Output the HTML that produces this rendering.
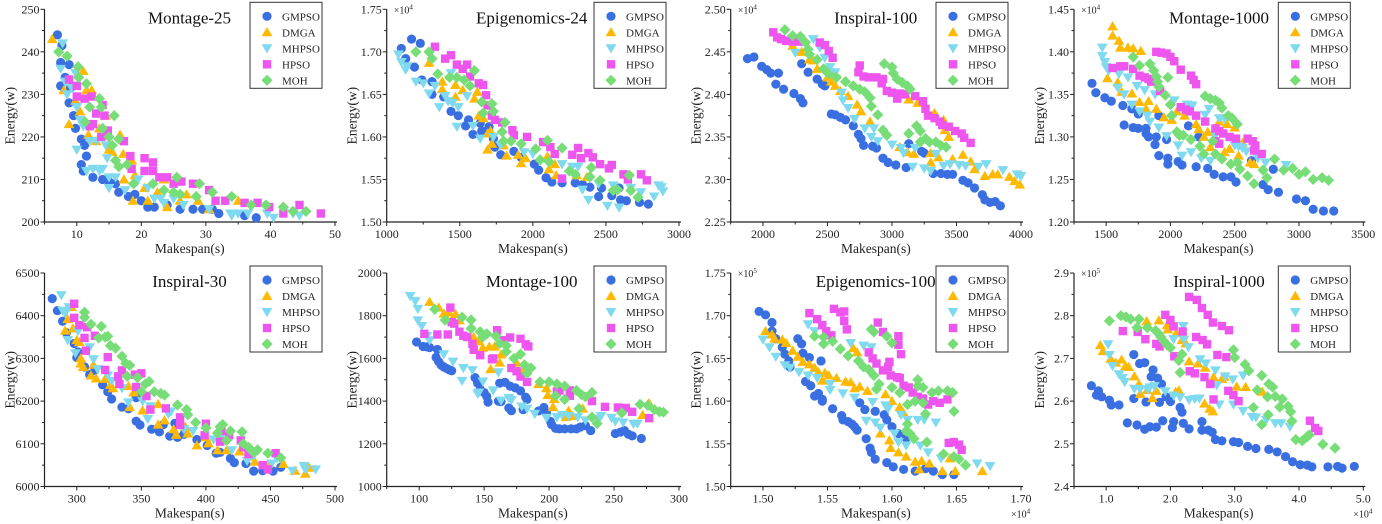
<!DOCTYPE html>
<html><head><meta charset="utf-8"><style>
html,body{margin:0;padding:0;background:#fff;}
svg{display:block;font-family:"Liberation Serif",serif;}
</style></head><body>
<svg id="chart" width="1382" height="524" viewBox="0 0 1382 524" xmlns="http://www.w3.org/2000/svg"></svg>
<script>
const seriesNames = ["GMPSO","DMGA","MHPSO","HPSO","MOH"];
const panelTitles = ["Montage-25","Epigenomics-24","Inspiral-100","Montage-1000","Inspiral-30","Montage-100","Epigenomics-100","Inspiral-1000"];

const p1_gmpso=[[7,244],[7.7,241.5],[7.5,237.5],[8.8,237],[7.5,232],[8.2,234],[9,231.5],[8.8,228],[9.5,225],[9.8,222],[10.7,219.5],[11.2,218],[11.5,215.5],[10.7,213.5],[11,212],[12.5,210.5],[14,210],[15,209.5],[16,209],[16.5,207],[18,206],[19,206.5],[20,205],[21,203.5],[22,203.5],[24,204],[26,203],[28,203],[29.5,203],[31,203],[32,202],[36,201.5],[37.8,201]];
const p1_dmga=[[6.2,243],[8,231],[8.8,223],[9.8,228.5],[10.5,226],[11,235.5],[11.5,231],[12.3,231],[11.8,220.5],[13,219],[13.5,222],[14.5,225],[15,217],[15.5,216.5],[16.7,220.5],[17.2,216],[17.3,210],[18.5,214.5],[18.7,205],[19,211],[20.5,208],[21,205],[22.5,207],[23.5,210],[24,203.5],[26,205],[27,206.5],[28.8,205],[30.5,203],[35,205]];
const p1_mhpso=[[7.5,236],[7.8,242],[8.2,233],[8.5,230],[9.2,231.5],[9.8,235],[10,227],[10,217],[10.5,224],[11,222.5],[11.5,212],[12,219],[12.5,212.5],[13,219],[13.5,212],[14,212.5],[14.5,218],[14.7,215],[15,210.5],[15,208],[16,210.5],[17.5,207.5],[19.5,210],[21,208],[22,205.5],[23,205.5],[23.5,204.5],[25,205.5],[26.5,204],[30.5,203],[33.8,202],[34,201.5],[35,202],[36.5,202],[39.5,202],[40.5,201],[43.5,202],[44.5,201.5]];
const p1_hpso=[[8.8,233.5],[10,232],[10,229.5],[11.2,229],[12,222.5],[12.3,229.5],[13,225.5],[12.5,223],[13.8,220],[14,227.5],[14.3,225],[14.8,221.5],[17.3,219],[18.3,215.5],[18.5,212.5],[20.5,215],[20.5,212],[21.8,214],[21.8,212],[22.8,210.5],[24,210.5],[25,209],[26.2,209.5],[28,209],[30.5,207.5],[31.5,205],[33,205],[36,204.5],[38,204.5],[39.8,203.5],[42,202],[44.5,204],[47.8,202]];
const p1_moh=[[7.2,240],[8.5,239],[10.2,236.5],[10.3,234],[11.5,232.5],[12,227],[11.3,223.5],[13.5,229],[13.8,227],[14,222],[15.8,225],[15,220],[15.5,218],[16,214.5],[16.5,213],[16.5,219.5],[17.8,213.5],[18.8,209],[21.8,209],[23.5,207.5],[25,207],[25.5,210.5],[26,206.5],[28.5,206],[29,209],[31,207],[34,206],[37,204],[39.3,204],[42,203.5],[43.5,202.5],[45.5,202.5]];

const p2_gmpso=[[1100,1.704],[1130,1.692],[1170,1.715],[1190,1.682],[1230,1.71],[1240,1.667],[1310,1.665],[1310,1.650],[1390,1.647],[1440,1.630],[1490,1.625],[1540,1.613],[1560,1.620],[1590,1.603],[1640,1.616],[1650,1.607],[1700,1.612],[1730,1.598],[1740,1.588],[1780,1.579],[1870,1.583],[1920,1.576],[2010,1.568],[2040,1.561],[2090,1.552],[2130,1.547],[2200,1.546],[2290,1.546],[2340,1.544],[2390,1.541],[2450,1.530],[2470,1.540],[2540,1.531],[2590,1.540],[2600,1.526],[2640,1.525],[2730,1.523],[2790,1.521]];
const p2_dmga=[[1290,1.687],[1380,1.665],[1380,1.656],[1470,1.661],[1470,1.647],[1520,1.655],[1600,1.645],[1620,1.653],[1630,1.625],[1660,1.622],[1690,1.604],[1710,1.607],[1690,1.585],[1720,1.592],[1820,1.578],[1800,1.590],[1900,1.579],[1920,1.569],[1950,1.575],[2110,1.562],[2100,1.577],[2150,1.568],[2160,1.555],[2300,1.555],[2370,1.553]];
const p2_mhpso=[[1080,1.697],[1100,1.688],[1130,1.679],[1140,1.683],[1200,1.665],[1250,1.663],[1290,1.651],[1330,1.660],[1360,1.635],[1400,1.648],[1420,1.642],[1440,1.675],[1450,1.640],[1490,1.635],[1480,1.612],[1550,1.648],[1590,1.613],[1640,1.598],[1730,1.600],[1780,1.590],[1940,1.582],[2000,1.580],[2200,1.568],[2270,1.565],[2310,1.565],[2340,1.538],[2380,1.526],[2450,1.545],[2510,1.519],[2550,1.543],[2590,1.517],[2670,1.540],[2740,1.535],[2830,1.530],[2860,1.543],[2880,1.541],[2890,1.536]];
const p2_hpso=[[1330,1.706],[1400,1.692],[1440,1.696],[1480,1.685],[1520,1.680],[1550,1.685],[1570,1.671],[1630,1.663],[1660,1.661],[1680,1.649],[1690,1.637],[1720,1.625],[1740,1.620],[1790,1.617],[1860,1.608],[1870,1.602],[1960,1.600],[2070,1.594],[2120,1.588],[2150,1.580],[2200,1.551],[2270,1.579],[2310,1.587],[2330,1.575],[2380,1.581],[2410,1.576],[2460,1.568],[2520,1.563],[2540,1.567],[2620,1.556],[2650,1.550],[2740,1.556],[2780,1.549]];
const p2_moh=[[1200,1.700],[1290,1.700],[1310,1.692],[1350,1.674],[1430,1.670],[1480,1.670],[1530,1.667],[1570,1.660],[1600,1.678],[1650,1.641],[1660,1.628],[1720,1.639],[1730,1.630],[1790,1.606],[1810,1.617],[1800,1.595],[1850,1.595],[1920,1.592],[2020,1.586],[2050,1.573],[2100,1.596],[2110,1.571],[2200,1.587],[2250,1.560],[2290,1.556],[2390,1.553],[2400,1.564],[2460,1.549],[2550,1.537],[2580,1.538],[2660,1.555],[2670,1.537],[2720,1.529]];

const p3_gmpso=[[1880,2.442],[1930,2.444],[1990,2.433],[2030,2.429],[2060,2.425],[2100,2.412],[2120,2.425],[2160,2.406],[2240,2.401],[2290,2.395],[2310,2.390],[2300,2.436],[2350,2.426],[2420,2.418],[2460,2.412],[2480,2.410],[2530,2.377],[2560,2.376],[2600,2.373],[2640,2.370],[2700,2.363],[2740,2.353],[2760,2.348],[2780,2.340],[2850,2.339],[2880,2.337],[2930,2.325],[2970,2.320],[3030,2.317],[3110,2.314],[3130,2.342],[3230,2.333],[3250,2.331],[3320,2.307],[3380,2.307],[3430,2.306],[3470,2.306],[3550,2.299],[3590,2.296],[3640,2.290],[3700,2.282],[3720,2.276],[3760,2.273],[3800,2.274],[3840,2.269]];
const p3_dmga=[[2230,2.457],[2300,2.450],[2360,2.441],[2390,2.440],[2420,2.430],[2500,2.420],[2530,2.415],[2560,2.410],[2600,2.404],[2660,2.398],[2730,2.388],[2760,2.380],[2830,2.368],[3060,2.338],[3120,2.332],[3130,2.394],[3170,2.330],[3200,2.390],[3300,2.331],[3300,2.320],[3330,2.378],[3360,2.326],[3400,2.370],[3410,2.358],[3440,2.350],[3470,2.324],[3550,2.329],[3610,2.321],[3640,2.312],[3720,2.304],[3780,2.306],[3820,2.306],[3910,2.303],[3950,2.298],[3990,2.294]];
const p3_mhpso=[[2250,2.449],[2390,2.465],[2440,2.455],[2480,2.443],[2520,2.432],[2560,2.426],[2610,2.402],[2620,2.393],[2660,2.384],[2710,2.371],[2790,2.360],[2840,2.350],[2860,2.360],[2890,2.345],[3000,2.341],[3070,2.337],[3090,2.331],[3160,2.315],[3180,2.337],[3250,2.313],[3300,2.310],[3340,2.330],[3400,2.316],[3450,2.318],[3520,2.317],[3570,2.316],[3670,2.315],[3730,2.318],[3860,2.311],[3970,2.306],[4000,2.304]];
const p3_hpso=[[2080,2.473],[2110,2.467],[2140,2.465],[2180,2.463],[2230,2.462],[2280,2.462],[2440,2.461],[2480,2.458],[2510,2.451],[2540,2.443],[2750,2.434],[2740,2.426],[2780,2.421],[2820,2.420],[2880,2.420],[2920,2.413],[2930,2.418],[2960,2.404],[3000,2.402],[3040,2.395],[3060,2.401],[3100,2.400],[3180,2.398],[3240,2.392],[3260,2.383],[3280,2.375],[3330,2.372],[3370,2.368],[3390,2.364],[3440,2.362],[3490,2.357],[3540,2.354],[3560,2.349],[3610,2.343]];
const p3_moh=[[2170,2.476],[2230,2.469],[2290,2.468],[2330,2.461],[2350,2.453],[2360,2.447],[2420,2.441],[2470,2.430],[2510,2.424],[2570,2.420],[2640,2.415],[2700,2.410],[2750,2.406],[2790,2.403],[2830,2.396],[2840,2.386],[2890,2.376],[2940,2.436],[3000,2.432],[3010,2.425],[3040,2.418],[3080,2.414],[3120,2.410],[3140,2.406],[2930,2.358],[2960,2.352],[3130,2.354],[3190,2.363],[3220,2.357],[3260,2.348],[3290,2.344],[3220,2.344],[3340,2.344],[3380,2.340],[3420,2.338]];

const p4_gmpso=[[1390,1.363],[1420,1.352],[1490,1.346],[1540,1.342],[1630,1.337],[1640,1.314],[1710,1.311],[1700,1.333],[1750,1.310],[1750,1.327],[1810,1.310],[1810,1.304],[1830,1.300],[1880,1.291],[1890,1.300],[1910,1.325],[1910,1.278],[1970,1.297],[1980,1.268],[1980,1.275],[2060,1.271],[2090,1.267],[2140,1.313],[2200,1.265],[2220,1.300],[2290,1.263],[2340,1.256],[2410,1.253],[2470,1.253],[2510,1.247],[2630,1.272],[2720,1.244],[2760,1.238],[2800,1.262],[2840,1.235],[2980,1.227],[3050,1.225],[3110,1.215],[3190,1.213],[3270,1.213]];
const p4_dmga=[[1550,1.430],[1550,1.419],[1600,1.413],[1610,1.405],[1670,1.405],[1710,1.404],[1770,1.401],[1510,1.369],[1590,1.364],[1620,1.353],[1700,1.351],[1760,1.341],[1810,1.333],[1830,1.342],[1890,1.333],[1950,1.323],[2010,1.320],[2050,1.330],[2110,1.325],[2200,1.315],[2220,1.309],[2260,1.300],[2290,1.306],[2310,1.288],[2420,1.282],[2380,1.318],[2440,1.315],[2460,1.286],[2500,1.311],[2530,1.278],[2560,1.293],[2620,1.270],[2650,1.268]];
const p4_mhpso=[[1470,1.405],[1470,1.395],[1490,1.388],[1500,1.382],[1520,1.378],[1600,1.374],[1590,1.358],[1640,1.350],[1670,1.370],[1700,1.338],[1740,1.360],[1760,1.330],[1800,1.355],[1820,1.325],[1840,1.318],[1880,1.350],[1910,1.311],[1970,1.301],[2030,1.343],[2060,1.290],[2090,1.278],[2130,1.338],[2160,1.282],[2170,1.337],[2240,1.275],[2270,1.326],[2300,1.333],[2310,1.272],[2350,1.302],[2380,1.322],[2420,1.321],[2500,1.290],[2530,1.289],[2560,1.287],[2590,1.283],[2680,1.275],[2740,1.270],[2900,1.267]];
const p4_hpso=[[1550,1.381],[1610,1.383],[1640,1.383],[1710,1.380],[1760,1.372],[1800,1.370],[1830,1.368],[1850,1.365],[1890,1.400],[1930,1.399],[1970,1.398],[2000,1.394],[2030,1.389],[2080,1.379],[2160,1.372],[2180,1.367],[2200,1.362],[1920,1.354],[2080,1.335],[2120,1.332],[2150,1.330],[2200,1.325],[2270,1.318],[2350,1.310],[2380,1.307],[2410,1.304],[2460,1.300],[2510,1.298],[2350,1.295],[2380,1.292],[2600,1.298],[2640,1.295],[2660,1.290],[2650,1.284],[2710,1.280]];
const p4_moh=[[1710,1.394],[1760,1.384],[1840,1.386],[1870,1.378],[1890,1.371],[1900,1.365],[1910,1.359],[1980,1.370],[1960,1.349],[2000,1.338],[2010,1.325],[2050,1.306],[2070,1.302],[2100,1.302],[2160,1.297],[2230,1.289],[2260,1.280],[2270,1.348],[2310,1.345],[2350,1.343],[2380,1.340],[2400,1.334],[2330,1.295],[2350,1.280],[2400,1.274],[2450,1.325],[2480,1.322],[2520,1.315],[2470,1.268],[2520,1.270],[2540,1.262],[2600,1.254],[2650,1.245],[2720,1.261],[2750,1.252],[2810,1.274],[2880,1.261],[2950,1.263],[3000,1.256],[3050,1.259],[3110,1.250],[3180,1.252],[3230,1.249]];

const p5_gmpso=[[281,6440],[285,6412],[289,6387],[292,6360],[298,6335],[301,6315],[300,6302],[306,6280],[310,6262],[314,6272],[320,6238],[324,6222],[327,6205],[335,6186],[340,6182],[346,6153],[349,6144],[346,6208],[358,6134],[364,6128],[367,6145],[372,6118],[376,6148],[378,6115],[383,6122],[393,6110],[401,6096],[408,6078],[411,6080],[419,6066],[422,6056],[431,6054],[437,6036],[444,6037],[452,6036],[458,6045]];
const p5_dmga=[[291,6365],[293,6392],[296,6420],[297,6370],[300,6343],[302,6338],[303,6300],[303,6288],[305,6280],[311,6260],[313,6285],[315,6253],[322,6252],[326,6238],[328,6230],[340,6235],[341,6186],[344,6220],[351,6178],[363,6193],[363,6145],[368,6155],[375,6134],[377,6121],[384,6140],[386,6124],[393,6096],[400,6115],[402,6101],[409,6085],[416,6085],[426,6082],[435,6070],[438,6058],[448,6052],[460,6053],[469,6037],[477,6030],[480,6044]];
const p5_mhpso=[[288,6448],[289,6412],[291,6406],[293,6343],[294,6420],[299,6312],[301,6364],[310,6326],[313,6298],[316,6275],[324,6260],[327,6247],[335,6230],[340,6197],[351,6200],[355,6158],[357,6188],[371,6170],[373,6176],[383,6134],[390,6130],[406,6110],[411,6112],[420,6085],[432,6060],[437,6072],[451,6054],[455,6066],[467,6037],[476,6048],[477,6040],[485,6040]];
const p5_hpso=[[298,6428],[298,6395],[302,6378],[306,6348],[307,6318],[308,6373],[314,6353],[324,6303],[322,6273],[332,6258],[333,6240],[335,6272],[345,6262],[350,6265],[346,6233],[354,6212],[357,6180],[369,6183],[380,6162],[380,6144],[400,6147],[399,6120],[411,6105],[412,6130],[418,6120],[427,6108],[429,6092],[433,6076],[444,6050],[448,6040],[454,6078]];
const p5_moh=[[306,6408],[306,6396],[311,6380],[317,6348],[319,6375],[322,6350],[324,6352],[326,6330],[330,6324],[335,6305],[338,6288],[341,6284],[339,6258],[347,6255],[350,6222],[353,6240],[356,6246],[360,6222],[365,6218],[368,6214],[378,6191],[385,6180],[386,6168],[392,6150],[400,6137],[409,6125],[411,6140],[413,6145],[419,6130],[416,6108],[428,6128],[429,6100],[433,6092],[437,6080],[440,6086],[448,6078],[458,6067]];

const p6_gmpso=[[98,1677],[103,1656],[106,1654],[108,1651],[114,1642],[113,1605],[115,1585],[117,1568],[119,1560],[121,1553],[123,1547],[125,1542],[143,1510],[145,1484],[147,1455],[150,1440],[152,1422],[153,1395],[161,1400],[163,1398],[162,1484],[166,1488],[170,1470],[174,1462],[178,1448],[182,1418],[183,1408],[169,1368],[171,1355],[180,1360],[192,1354],[196,1370],[198,1345],[201,1305],[202,1290],[205,1272],[208,1270],[212,1270],[217,1270],[221,1270],[224,1278],[228,1285],[232,1262],[251,1248],[255,1255],[258,1262],[261,1245],[264,1237],[271,1225]];
const p6_dmga=[[108,1865],[115,1838],[119,1810],[123,1815],[128,1808],[131,1778],[142,1700],[146,1680],[149,1650],[154,1655],[158,1655],[163,1618],[155,1550],[162,1580],[175,1580],[180,1545],[192,1480],[198,1460],[199,1428],[204,1410],[203,1372],[213,1325],[215,1355],[218,1330],[226,1365],[272,1335],[277,1390]];
const p6_mhpso=[[93,1892],[97,1868],[99,1832],[99,1778],[102,1752],[106,1705],[108,1685],[119,1620],[126,1585],[134,1555],[133,1495],[141,1545],[145,1435],[146,1440],[149,1492],[157,1450],[161,1535],[163,1402],[169,1415],[171,1405],[179,1375],[183,1365],[189,1340],[198,1322],[206,1325],[210,1335],[215,1330],[222,1325],[228,1310],[238,1318],[240,1330],[248,1322],[251,1305],[257,1300],[265,1293],[268,1295]];
const p6_hpso=[[104,1715],[114,1712],[122,1712],[124,1838],[125,1770],[127,1763],[131,1725],[134,1706],[137,1700],[141,1668],[142,1640],[147,1615],[156,1596],[157,1600],[160,1732],[165,1685],[170,1698],[178,1692],[171,1555],[175,1540],[178,1515],[182,1666],[184,1656],[183,1490],[206,1445],[208,1450],[216,1450],[216,1425],[233,1400],[243,1373],[253,1370],[259,1368],[264,1350],[277,1320]];
const p6_moh=[[112,1830],[120,1780],[133,1793],[140,1780],[140,1740],[147,1725],[149,1700],[152,1715],[159,1705],[162,1670],[167,1660],[167,1632],[173,1600],[178,1620],[181,1570],[183,1530],[186,1555],[193,1490],[200,1490],[206,1480],[205,1425],[212,1470],[212,1408],[221,1450],[223,1365],[225,1430],[228,1420],[233,1440],[233,1325],[237,1295],[256,1345],[270,1385],[276,1380],[281,1360],[285,1350],[288,1348]];

const p7_gmpso=[[1.497,1.705],[1.502,1.701],[1.507,1.692],[1.507,1.682],[1.510,1.673],[1.515,1.663],[1.517,1.655],[1.520,1.647],[1.521,1.640],[1.527,1.673],[1.530,1.667],[1.531,1.656],[1.536,1.651],[1.545,1.647],[1.533,1.623],[1.537,1.618],[1.540,1.606],[1.543,1.609],[1.546,1.602],[1.546,1.600],[1.554,1.591],[1.561,1.583],[1.562,1.578],[1.566,1.576],[1.569,1.573],[1.571,1.570],[1.573,1.566],[1.575,1.598],[1.579,1.590],[1.580,1.556],[1.583,1.545],[1.584,1.540],[1.587,1.532],[1.587,1.588],[1.594,1.584],[1.596,1.578],[1.596,1.528],[1.600,1.570],[1.601,1.523],[1.605,1.562],[1.609,1.520],[1.611,1.557],[1.618,1.518],[1.626,1.521],[1.632,1.518],[1.639,1.514],[1.648,1.514]];
const p7_dmga=[[1.502,1.682],[1.507,1.678],[1.509,1.673],[1.515,1.672],[1.518,1.668],[1.523,1.659],[1.527,1.652],[1.531,1.646],[1.536,1.643],[1.540,1.639],[1.543,1.634],[1.546,1.624],[1.548,1.633],[1.551,1.630],[1.557,1.627],[1.564,1.623],[1.568,1.622],[1.571,1.615],[1.575,1.617],[1.570,1.662],[1.573,1.657],[1.581,1.612],[1.591,1.562],[1.595,1.608],[1.598,1.554],[1.599,1.545],[1.600,1.600],[1.605,1.540],[1.606,1.593],[1.609,1.586],[1.611,1.535],[1.618,1.529],[1.621,1.520],[1.623,1.530],[1.629,1.527],[1.639,1.518],[1.645,1.533],[1.649,1.518],[1.670,1.518]];
const p7_mhpso=[[1.500,1.672],[1.505,1.663],[1.510,1.652],[1.517,1.642],[1.521,1.639],[1.528,1.634],[1.535,1.690],[1.540,1.682],[1.535,1.630],[1.542,1.627],[1.552,1.620],[1.552,1.613],[1.562,1.609],[1.568,1.668],[1.571,1.604],[1.578,1.665],[1.580,1.577],[1.584,1.663],[1.587,1.575],[1.585,1.599],[1.591,1.569],[1.595,1.595],[1.597,1.591],[1.602,1.562],[1.605,1.552],[1.607,1.584],[1.611,1.548],[1.612,1.578],[1.620,1.578],[1.622,1.548],[1.625,1.578],[1.628,1.540],[1.634,1.575],[1.638,1.533],[1.666,1.527],[1.676,1.524]];
const p7_hpso=[[1.536,1.703],[1.542,1.696],[1.546,1.689],[1.549,1.682],[1.553,1.677],[1.555,1.708],[1.560,1.704],[1.563,1.705],[1.563,1.694],[1.565,1.684],[1.582,1.657],[1.585,1.650],[1.588,1.644],[1.589,1.692],[1.593,1.681],[1.593,1.636],[1.597,1.640],[1.598,1.646],[1.599,1.630],[1.604,1.628],[1.606,1.627],[1.605,1.676],[1.605,1.666],[1.607,1.655],[1.609,1.618],[1.613,1.616],[1.616,1.610],[1.620,1.605],[1.624,1.603],[1.628,1.596],[1.632,1.600],[1.637,1.598],[1.643,1.602],[1.644,1.551],[1.648,1.552],[1.652,1.549],[1.654,1.543]];
const p7_moh=[[1.540,1.676],[1.547,1.667],[1.547,1.675],[1.554,1.670],[1.560,1.661],[1.566,1.653],[1.574,1.647],[1.578,1.640],[1.584,1.684],[1.586,1.681],[1.582,1.637],[1.586,1.630],[1.588,1.614],[1.590,1.620],[1.596,1.676],[1.600,1.668],[1.600,1.616],[1.606,1.610],[1.611,1.565],[1.612,1.573],[1.612,1.596],[1.614,1.562],[1.617,1.556],[1.618,1.600],[1.620,1.625],[1.620,1.618],[1.624,1.598],[1.624,1.616],[1.626,1.585],[1.627,1.552],[1.631,1.610],[1.636,1.612],[1.640,1.538],[1.643,1.612],[1.647,1.610],[1.648,1.588],[1.648,1.535],[1.652,1.532],[1.657,1.525]];

const p8_gmpso=[[0.77,2.636],[0.85,2.614],[0.88,2.624],[0.93,2.610],[1.05,2.602],[1.08,2.591],[1.20,2.591],[1.33,2.549],[1.43,2.606],[1.43,2.709],[1.48,2.544],[1.52,2.688],[1.60,2.690],[1.60,2.534],[1.62,2.598],[1.68,2.540],[1.70,2.657],[1.73,2.673],[1.78,2.539],[1.80,2.654],[1.83,2.597],[1.86,2.640],[1.88,2.554],[1.93,2.610],[2.00,2.599],[2.03,2.538],[2.05,2.552],[2.15,2.585],[2.18,2.574],[2.20,2.548],[2.29,2.535],[2.49,2.552],[2.49,2.532],[2.59,2.532],[2.65,2.527],[2.70,2.510],[2.80,2.507],[2.98,2.505],[3.06,2.503],[3.20,2.494],[3.33,2.489],[3.53,2.487],[3.66,2.481],[3.79,2.470],[3.90,2.458],[4.02,2.451],[4.13,2.450],[4.20,2.446],[4.45,2.446],[4.60,2.447],[4.67,2.443],[4.86,2.447]];
const p8_dmga=[[0.91,2.731],[0.95,2.717],[1.07,2.699],[1.15,2.690],[1.24,2.697],[1.30,2.682],[1.35,2.680],[1.44,2.658],[1.51,2.640],[1.53,2.617],[1.64,2.626],[1.63,2.787],[1.72,2.607],[1.78,2.624],[1.82,2.789],[1.95,2.778],[1.96,2.768],[2.09,2.759],[2.08,2.622],[2.13,2.625],[2.18,2.743],[2.24,2.735],[2.29,2.693],[2.43,2.688],[2.54,2.678],[2.53,2.594],[2.61,2.582],[2.66,2.576],[2.67,2.656],[2.80,2.652],[2.84,2.657],[3.03,2.634],[3.17,2.633],[3.43,2.622]];
const p8_mhpso=[[1.03,2.733],[1.05,2.708],[1.10,2.682],[1.20,2.663],[1.25,2.654],[1.29,2.645],[1.44,2.629],[1.53,2.628],[1.65,2.627],[1.68,2.632],[1.75,2.635],[1.92,2.623],[2.05,2.613],[2.05,2.745],[2.15,2.609],[2.20,2.776],[2.21,2.744],[2.28,2.726],[2.29,2.603],[2.38,2.605],[2.45,2.606],[2.46,2.698],[2.55,2.688],[2.70,2.672],[2.72,2.637],[2.76,2.592],[2.85,2.658],[2.97,2.651],[2.98,2.592],[3.13,2.660],[3.13,2.577],[3.27,2.563],[3.33,2.562],[3.49,2.556],[3.63,2.548],[3.72,2.548],[3.86,2.540]];
const p8_hpso=[[1.26,2.764],[1.49,2.762],[1.61,2.745],[1.78,2.734],[1.83,2.728],[1.92,2.802],[2.00,2.790],[2.05,2.775],[2.06,2.705],[2.19,2.763],[2.29,2.844],[2.41,2.837],[2.49,2.818],[2.58,2.802],[2.66,2.784],[2.80,2.776],[2.91,2.766],[2.30,2.670],[2.38,2.665],[2.40,2.750],[2.50,2.743],[2.57,2.733],[2.53,2.656],[2.62,2.640],[2.67,2.604],[2.73,2.708],[2.87,2.703],[2.90,2.624],[2.98,2.614],[3.06,2.600],[4.17,2.554],[4.25,2.537],[4.30,2.530]];
const p8_moh=[[1.05,2.788],[1.23,2.800],[1.31,2.797],[1.38,2.792],[1.51,2.792],[1.48,2.772],[1.64,2.772],[1.77,2.765],[1.82,2.757],[1.85,2.750],[1.90,2.740],[1.95,2.731],[2.00,2.725],[2.13,2.695],[2.18,2.710],[2.15,2.667],[2.98,2.720],[3.00,2.702],[3.16,2.686],[3.22,2.671],[3.42,2.660],[3.35,2.626],[3.29,2.585],[3.42,2.545],[3.51,2.610],[3.53,2.640],[3.52,2.568],[3.59,2.633],[3.63,2.611],[3.70,2.586],[3.74,2.605],[3.83,2.588],[3.87,2.575],[3.89,2.553],[3.95,2.510],[4.05,2.507],[4.12,2.516],[4.16,2.521],[4.37,2.499],[4.56,2.490]];

const panelSeries = [
 [p1_gmpso,p1_dmga,p1_mhpso,p1_hpso,p1_moh],
 [p2_gmpso,p2_dmga,p2_mhpso,p2_hpso,p2_moh],
 [p3_gmpso,p3_dmga,p3_mhpso,p3_hpso,p3_moh],
 [p4_gmpso,p4_dmga,p4_mhpso,p4_hpso,p4_moh],
 [p5_gmpso,p5_dmga,p5_mhpso,p5_hpso,p5_moh],
 [p6_gmpso,p6_dmga,p6_mhpso,p6_hpso,p6_moh],
 [p7_gmpso,p7_dmga,p7_mhpso,p7_hpso,p7_moh],
 [p8_gmpso,p8_dmga,p8_mhpso,p8_hpso,p8_moh]];
const xDomains=[[5,50],[1000,3000],[1750,4000],[1250,3500],[275,500],[75,300],[1.475,1.70],[0.5,5.0]];
const yDomains=[[200,250],[1.50,1.75],[2.25,2.50],[1.20,1.45],[6000,6500],[1000,2000],[1.50,1.75],[2.4,2.9]];
const xTickVals=[[10,20,30,40,50],[1000,1500,2000,2500,3000],[2000,2500,3000,3500,4000],[1500,2000,2500,3000,3500],[300,350,400,450,500],[100,150,200,250,300],[1.50,1.55,1.60,1.65,1.70],[1,2,3,4,5]];
const yTickVals=[[200,210,220,230,240,250],[1.50,1.55,1.60,1.65,1.70,1.75],[2.25,2.30,2.35,2.40,2.45,2.50],[1.20,1.25,1.30,1.35,1.40,1.45],[6000,6100,6200,6300,6400,6500],[1000,1200,1400,1600,1800,2000],[1.50,1.55,1.60,1.65,1.70,1.75],[2.4,2.5,2.6,2.7,2.8,2.9]];
const xDecimals=[0,0,0,0,0,0,2,1];
const yDecimals=[0,2,2,2,0,0,2,1];
const yMult=["","4","4","4","","","5","5"];
const xMult=["","","","","","","4","4"];

// layout (pixels)
const boxX=[[44.5,335],[386.7,679],[730.7,1021],[1074,1363.3]];
const boxY=[[222,9.3],[486.5,273]];
const colors=["#3a6fe2","#ffb900","#7fd9ef","#ee55ee","#77dd77"];
const NS="http://www.w3.org/2000/svg";
const svg=document.getElementById('chart');
function mk(tag,attrs,parent){const e=document.createElementNS(NS,tag);for(const k in attrs)e.setAttribute(k,attrs[k]);(parent||svg).appendChild(e);return e;}
function marker(g,k,cx,cy){
  let e;
  if(k===0) e=mk('circle',{cx:cx,cy:cy,r:4.6},g);
  else if(k===1) e=mk('polygon',{points:`${cx},${cy-5.2} ${cx+5.4},${cy+4} ${cx-5.4},${cy+4}`},g);
  else if(k===2) e=mk('polygon',{points:`${cx},${cy+5.2} ${cx+5.4},${cy-4} ${cx-5.4},${cy-4}`},g);
  else if(k===3) e=mk('rect',{x:cx-4.2,y:cy-4.2,width:8.4,height:8.4},g);
  else e=mk('polygon',{points:`${cx},${cy-5.6} ${cx+5.6},${cy} ${cx},${cy+5.6} ${cx-5.6},${cy}`},g);
  e.setAttribute('fill',colors[k]);
  return e;
}
for(let p=0;p<8;p++){
  const [L,R]=boxX[p%4]; const [B,T]=boxY[Math.floor(p/4)];
  const xs=v=>L+(v-xDomains[p][0])/(xDomains[p][1]-xDomains[p][0])*(R-L);
  const ys=v=>B-(v-yDomains[p][0])/(yDomains[p][1]-yDomains[p][0])*(B-T);
  const g=mk('g',{});
  
  
  const ax=mk('path',{d:`M${L},${T} L${L},${B} L${R+2},${B}`,stroke:'#222',fill:'none','stroke-width':1.2},g);
  
  
  const xd=xDomains[p], xstep=xTickVals[p][1]-xTickVals[p][0];
  for(let v=xTickVals[p][0]-xstep;v<=xd[1]+1e-9;v+=xstep/2){
    if(v<xd[0]-1e-9) continue;
    const major=xTickVals[p].some(t=>Math.abs(t-v)<1e-9);
    mk('line',{x1:xs(v),x2:xs(v),y1:B,y2:B+(major?4:2.5),stroke:'#222','stroke-width':1},g);
  }
  xTickVals[p].forEach(v=>{
    const t=mk('text',{x:xs(v),y:B+16,'text-anchor':'middle','font-size':12,fill:'#222'},g);
    t.textContent=v.toFixed(xDecimals[p]);
    
    
  });
  const ystep=yTickVals[p][1]-yTickVals[p][0];
  for(let v=yTickVals[p][0];v<=yDomains[p][1]+1e-9;v+=ystep/2){
    const major=yTickVals[p].some(t=>Math.abs(t-v)<1e-9);
    mk('line',{x1:L,x2:L-(major?4:2.5),y1:ys(v),y2:ys(v),stroke:'#222','stroke-width':1},g);
  }
  yTickVals[p].forEach(v=>{
    const t=mk('text',{x:L-5,y:ys(v)+4,'text-anchor':'end','font-size':12,fill:'#222'},g);
    t.textContent=v.toFixed(yDecimals[p]);
    
    
  });
  if(yMult[p]){
    const t=mk('text',{x:L+7,y:T+4,'font-size':10,fill:'#222'},g);
    t.innerHTML='×10<tspan dy="-4" font-size="7">'+yMult[p]+'</tspan>';
    
    
  }
  if(xMult[p]){
    const t=mk('text',{x:R-10,y:B+31,'font-size':10,fill:'#222'},g);
    t.innerHTML='×10<tspan dy="-4" font-size="7">'+xMult[p]+'</tspan>';
    
    
  }
  const xt=mk('text',{x:(L+R)/2,y:B+31,'text-anchor':'middle','font-size':13.5,fill:'#222'},g);
  xt.textContent='Makespan(s)';
  
  
  const cy=(B+T)/2;
  const yt=mk('text',{x:L-30,y:cy,'text-anchor':'middle','font-size':13.5,fill:'#222',transform:`rotate(-90 ${L-30} ${cy})`},g);
  yt.textContent='Energy(w)';
  
  
  panelSeries[p].forEach((arr,k)=>{
    const sg=mk('g',{},g);
    
    
    arr.forEach(pt=>{
      const m=marker(sg,k,xs(pt[0]),ys(pt[1]));
      
      
    });
  });
  const tt=mk('text',{x:L+145,y:T+14,'text-anchor':'middle','font-size':17,fill:'#111'},g);
  tt.textContent=panelTitles[p];
  
  
  const lx=R-85, ly=T-7;
  const lg=mk('g',{},g);
  
  
  mk('rect',{x:lx,y:ly,width:72,height:86,fill:'#fff',stroke:'#333','stroke-width':1},lg);
  seriesNames.forEach((n,k)=>{
    const ey=ly+14+k*16;
    const ent=mk('g',{},lg);
    
    
    marker(ent,k,lx+17,ey);
    const t=mk('text',{x:lx+32,y:ey+4,'font-size':11,fill:'#222'},ent);
    t.textContent=n;
  });
}
</script>
</body></html>
